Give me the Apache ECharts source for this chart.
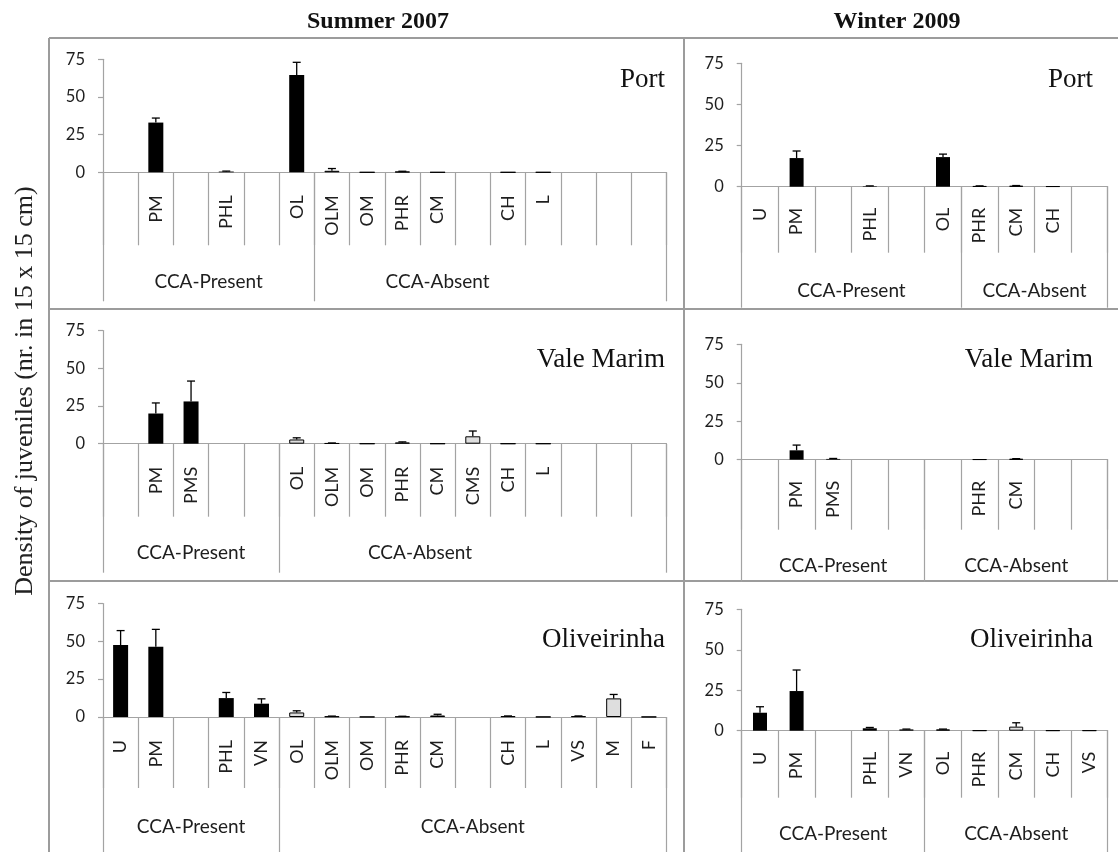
<!DOCTYPE html>
<html><head><meta charset="utf-8">
<script src="https://cdn.jsdelivr.net/npm/echarts@6/dist/echarts.min.js"></script>
<style>html,body{margin:0;padding:0;background:#fff}#c{width:1118px;height:852px}</style>
</head><body><div id="c"></div>
<script>
// ---------- data ----------
const groupNames = ['CCA-Present', 'CCA-Absent'];
const siteNames = ['Port', 'Vale Marim', 'Oliveirinha'];
const seasonNames = ['Summer 2007', 'Winter 2009'];
const yTicks = [0, 25, 50, 75];
const yTitle = 'Density of juveniles (nr. in 15 x 15 cm)';

// Summer 2007 - Port
const sPortCats = ['', 'PM', '', 'PHL', '', 'OL', 'OLM', 'OM', 'PHR', 'CM', '', 'CH', 'L', '', '', ''];
const sPortVals = [null, 33, null, 0.5, null, 64.5, 1, 0, 0.4, 0, null, 0, 0, null, null, null];
const sPortErrs = [null, 3, null, 0.3, null, 8.5, 1.5, 0, 0.3, 0, null, 0, 0, null, null, null];
const sPortGroupEnds = [6, 16];
const sPortLabelEnds = [6, 13];

// Summer 2007 - Vale Marim
const sValeCats = ['', 'PM', 'PMS', '', '', 'OL', 'OLM', 'OM', 'PHR', 'CM', 'CMS', 'CH', 'L', '', '', ''];
const sValeVals = [null, 20, 28, null, null, 2.8, 0.3, 0, 0.8, 0, 4.9, 0, 0, null, null, null];
const sValeErrs = [null, 7, 13.5, null, null, 1.1, 0.2, 0, 0.4, 0, 3.5, 0, 0, null, null, null];
const sValeGroupEnds = [5, 16];
const sValeLabelEnds = [5, 13];

// Summer 2007 - Oliveirinha
const sOlivCats = ['U', 'PM', '', 'PHL', 'VN', 'OL', 'OLM', 'OM', 'PHR', 'CM', '', 'CH', 'L', 'VS', 'M', 'F'];
const sOlivVals = [47.5, 46.5, null, 12.5, 8.8, 3, 0.4, 0.1, 0.3, 1, null, 0.5, 0.1, 0.5, 12.3, 0.1];
const sOlivErrs = [9.6, 11.4, null, 3.7, 3.2, 1.1, 0.2, 0, 0.2, 0.8, null, 0.2, 0, 0.2, 2.6, 0];
const sOlivGroupEnds = [5, 16];
const sOlivLabelEnds = [5, 16];

// Winter 2009 - Port
const wPortCats = ['U', 'PM', '', 'PHL', '', 'OL', 'PHR', 'CM', 'CH', ''];
const wPortVals = [0, 17.4, null, 0.3, null, 18, 0.3, 0.5, 0.2, null];
const wPortErrs = [0, 4.3, null, 0.2, null, 1.8, 0.2, 0.2, 0, null];
const wPortGroupEnds = [6, 10];
const wPortLabelEnds = [6, 10];

// Winter 2009 - Vale Marim
const wValeCats = ['', 'PM', 'PMS', '', '', '', 'PHR', 'CM', '', ''];
const wValeVals = [null, 6.1, 0.5, null, null, null, 0.2, 0.5, null, null];
const wValeErrs = [null, 3.4, 0.3, null, null, null, 0, 0.2, null, null];
const wValeGroupEnds = [5, 10];
const wValeLabelEnds = [5, 10];

// Winter 2009 - Oliveirinha
const wOlivCats = ['U', 'PM', '', 'PHL', 'VN', 'OL', 'PHR', 'CM', 'CH', 'VS'];
const wOlivVals = [11.1, 24.5, null, 1.5, 0.8, 0.8, 0.1, 2.5, 0.1, 0.1];
const wOlivErrs = [3.7, 13, null, 0.5, 0.2, 0.2, 0, 2.4, 0, 0];
const wOlivGroupEnds = [5, 10];
const wOlivLabelEnds = [5, 10];

// ---------- layout / style ----------
const sans = 'Lato';
const serif = '"Liberation Serif", "Times New Roman", serif';
const axisGrey = '#a3a3a3';
const textGrey = '#1e1e1e';
const borderGrey = '#9c9c9c';

const panels = [
  {cats: sPortCats, vals: sPortVals, errs: sPortErrs, ends: sPortGroupEnds, labelEnds: sPortLabelEnds, site: 0},
  {cats: sValeCats, vals: sValeVals, errs: sValeErrs, ends: sValeGroupEnds, labelEnds: sValeLabelEnds, site: 1},
  {cats: sOlivCats, vals: sOlivVals, errs: sOlivErrs, ends: sOlivGroupEnds, labelEnds: sOlivLabelEnds, site: 2},
  {cats: wPortCats, vals: wPortVals, errs: wPortErrs, ends: wPortGroupEnds, labelEnds: wPortLabelEnds, site: 0},
  {cats: wValeCats, vals: wValeVals, errs: wValeErrs, ends: wValeGroupEnds, labelEnds: wValeLabelEnds, site: 1},
  {cats: wOlivCats, vals: wOlivVals, errs: wOlivErrs, ends: wOlivGroupEnds, labelEnds: wOlivLabelEnds, site: 2}
];
const layout = [
  {left: 103, top: 59.3, width: 563.5, height: 113, barW: 15, catTick: 73, catMargin: 23, grpTick: 129, grpMargin: 100, tx: 665, ty: 80},
  {left: 103, top: 330.5, width: 563.5, height: 113.2, barW: 15, catTick: 73, catMargin: 23, grpTick: 129, grpMargin: 100, tx: 665, ty: 360},
  {left: 103, top: 603.5, width: 563.5, height: 113.5, barW: 15, catTick: 71, catMargin: 23, grpTick: 136, grpMargin: 100, tx: 665, ty: 640},
  {left: 741.7, top: 63.3, width: 366, height: 123.4, barW: 14, catTick: 66, catMargin: 21, grpTick: 121, grpMargin: 95, tx: 1093, ty: 80},
  {left: 741.7, top: 344.3, width: 366, height: 115.4, barW: 14, catTick: 70, catMargin: 21, grpTick: 122, grpMargin: 97, tx: 1093, ty: 360},
  {left: 741.7, top: 609.3, width: 366, height: 121.4, barW: 14, catTick: 67, catMargin: 21, grpTick: 122, grpMargin: 94, tx: 1093, ty: 640}
];

const grid = [], xAxis = [], yAxis = [], series = [], graphic = [];

function errRender(params, api) {
  const x = api.value(0), v = api.value(1), e = api.value(2);
  const base = api.coord([x, v]);
  const top = api.coord([x, v + e]);
  const st = {stroke: '#000', lineWidth: 1.3};
  return {type: 'group', children: [
    {type: 'line', shape: {x1: base[0], y1: base[1], x2: top[0], y2: top[1]}, style: st},
    {type: 'line', shape: {x1: top[0] - 4, y1: top[1], x2: top[0] + 4, y2: top[1]}, style: st}
  ]};
}

panels.forEach((p, i) => {
  const L = layout[i];
  grid.push({left: L.left, top: L.top, width: L.width, height: L.height, containLabel: false});
  xAxis.push({
    type: 'category', gridIndex: i, data: p.cats, position: 'bottom', boundaryGap: true,
    axisLine: {show: true, onZero: false, lineStyle: {color: axisGrey, width: 1.2}},
    axisTick: {show: true, interval: 0, alignWithLabel: false, length: L.catTick, lineStyle: {color: axisGrey, width: 1.2}},
    axisLabel: {interval: 0, rotate: 90, margin: L.catMargin, fontFamily: sans, fontSize: 18, color: textGrey},
    splitLine: {show: false}
  });
  const bounds = [0].concat(p.ends);
  const starts = [0].concat(p.ends.slice(0, -1));
  const centers = p.labelEnds.map((e, k) => (starts[k] + e) / 2);
  xAxis.push({
    type: 'value', gridIndex: i, position: 'bottom', min: 0, max: p.cats.length,
    axisLine: {show: false}, splitLine: {show: false},
    axisTick: {show: true, customValues: bounds, length: L.grpTick, lineStyle: {color: axisGrey, width: 1.2}},
    axisLabel: {customValues: centers, formatter: (v) => { const k = centers.indexOf(v); return k >= 0 ? groupNames[k] : ''; },
      margin: L.grpMargin, fontFamily: sans, fontSize: 19, color: textGrey}
  });
  yAxis.push({
    type: 'value', gridIndex: i, min: yTicks[0], max: yTicks[yTicks.length - 1], interval: yTicks[1] - yTicks[0],
    axisLine: {show: true, onZero: false, lineStyle: {color: axisGrey, width: 1.2}},
    axisTick: {show: true, length: 5, lineStyle: {color: axisGrey, width: 1.2}},
    splitLine: {show: false},
    axisLabel: {margin: 18, fontFamily: sans, fontSize: 16.5, color: textGrey}
  });
  const groupOf = k => p.ends.findIndex(e => k < e);
  series.push({
    type: 'bar', xAxisIndex: 2 * i, yAxisIndex: i, barWidth: L.barW, silent: true,
    data: p.vals.map((v, k) => v == null ? null : {
      value: v,
      itemStyle: groupOf(k) === 0 ? {color: '#000'} : {color: '#dedede', borderColor: '#000', borderWidth: 1}
    })
  });
  series.push({
    type: 'custom', xAxisIndex: 2 * i, yAxisIndex: i, silent: true, z: 3,
    data: p.vals.map((v, k) => [k, v, p.errs[k]]).filter(d => d[1] != null && d[2] != null && d[2] > 0),
    encode: {x: 0, y: 1}, renderItem: errRender
  });
  graphic.push({type: 'text', x: L.tx, y: L.ty, z: 10,
    style: {text: siteNames[p.site], font: '27px ' + serif, fill: '#111', align: 'right', verticalAlign: 'middle', textAlign: 'right', textVerticalAlign: 'middle'}});
});

// column headers and y title
graphic.push({type: 'text', x: 378, y: 22, style: {text: seasonNames[0], font: 'bold 24px ' + serif, fill: '#111', align: 'center', verticalAlign: 'middle', textAlign: 'center', textVerticalAlign: 'middle'}});
graphic.push({type: 'text', x: 897, y: 22, style: {text: seasonNames[1], font: 'bold 24px ' + serif, fill: '#111', align: 'center', verticalAlign: 'middle', textAlign: 'center', textVerticalAlign: 'middle'}});
graphic.push({type: 'text', x: 25, y: 391, rotation: Math.PI / 2, style: {text: yTitle, font: '26px ' + serif, fill: '#222', align: 'center', verticalAlign: 'middle', textAlign: 'center', textVerticalAlign: 'middle'}});

// panel borders
const bl = (x1, y1, x2, y2) => ({type: 'line', z: -1, shape: {x1, y1, x2, y2}, style: {stroke: borderGrey, lineWidth: 2}});
graphic.push(bl(49, 38, 1118, 38), bl(49, 38, 49, 852), bl(684, 38, 684, 852), bl(49, 309, 1118, 309), bl(49, 581, 1118, 581));

const chart = echarts.init(document.getElementById('c'), null, {renderer: 'canvas'});
chart.setOption({animation: false, backgroundColor: '#fff', grid, xAxis, yAxis, series, graphic});
</script></body></html>
